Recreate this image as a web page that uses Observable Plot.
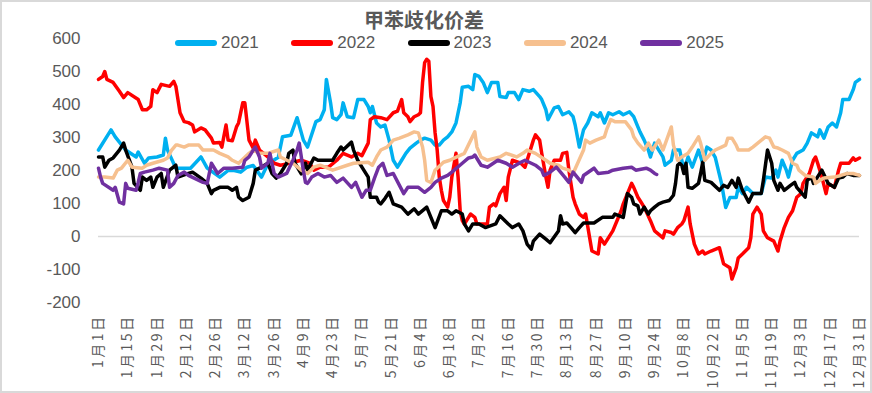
<!DOCTYPE html>
<html><head><meta charset="utf-8">
<script src="https://cdn.jsdelivr.net/npm/d3@7"></script>
<script src="https://cdn.jsdelivr.net/npm/@observablehq/plot@0.6"></script>
<style>
body{margin:0;background:#fff;}
#wrap{position:relative;width:872px;height:393px;overflow:hidden;background:#fff;}
#border{position:absolute;left:0;top:0;width:872px;height:393px;box-sizing:border-box;border:2.5px solid #D9D9D9;pointer-events:none;}
#title{position:absolute;left:0;width:848px;top:9px;text-align:center;font-weight:bold;font-size:20px;line-height:22px;font-family:"Noto Sans CJK SC",sans-serif;color:#595959;}
#legend{position:absolute;top:33px;left:175px;height:20px;display:flex;}
.item{width:116.3px;display:flex;align-items:center;height:20px;}
.sw{width:42px;height:6px;border-radius:3px;margin-right:4px;}
.lt{font-family:"Liberation Sans",Arial,sans-serif;font-size:17px;color:#595959;line-height:20px;}
#chart svg{position:absolute;left:0;top:0;}
#chart svg [aria-label="x-axis tick label"] text{font-family:"Noto Sans CJK SC",sans-serif;font-size:14px;letter-spacing:2.5px;fill:#595959;}
#chart svg [aria-label="y-axis tick label"] text{font-family:"Liberation Sans",Arial,sans-serif;font-size:17px;fill:#595959;}
</style></head>
<body>
<div id="wrap">
  <div id="chart"></div>
  <div id="title"></div>
  <div id="legend"></div>
  <div id="border"></div>
</div>
<script>
const titleText = "甲苯歧化价差";
const years = ["2021","2022","2023","2024","2025"];
const colors = ["#00B0F0","#FF0000","#000000","#F6C08F","#7030A0"];
const yTicks = [-200,-100,0,100,200,300,400,500,600];
const tickDays = [0,14,28,42,56,70,84,98,112,126,140,154,168,182,196,210,224,238,252,266,280,294,308,322,336,350,364];
const tickLabels = ["1月1日","1月15日","1月29日","2月12日","2月26日","3月12日","3月26日","4月9日","4月23日","5月7日","5月21日","6月4日","6月18日","7月2日","7月16日","7月30日","8月13日","8月27日","9月10日","9月24日","10月8日","10月22日","11月5日","11月19日","12月3日","12月17日","12月31日"];

// [day of year, value]
const s2021 = [[0,262],[6,323],[8,302],[10,286],[13,262],[18,241],[19,256],[22,222],[24,238],[28,241],[31,247],[32,298],[33,262],[37,207],[44,207],[49,241],[52,207],[58,180],[62,200],[65,200],[68,195],[71,210],[74,215],[78,180],[81,220],[86,240],[88,302],[92,307],[95,360],[98,292],[100,271],[104,348],[106,354],[108,384],[109,476],[111,405],[112,360],[114,354],[116,369],[117,405],[119,363],[122,360],[124,415],[127,415],[129,394],[130,375],[131,394],[133,344],[135,332],[137,338],[139,292],[141,231],[143,210],[145,231],[147,252],[149,268],[152,283],[154,292],[156,298],[159,292],[161,277],[163,277],[165,292],[167,302],[169,317],[171,344],[173,405],[174,452],[177,455],[179,445],[180,491],[182,485],[184,467],[186,436],[188,467],[191,467],[192,424],[195,421],[196,436],[199,436],[201,415],[203,445],[206,440],[208,445],[211,424],[212,415],[214,384],[215,354],[218,390],[220,394],[222,369],[225,378],[227,363],[228,338],[230,271],[232,323],[234,344],[236,375],[239,363],[240,375],[242,344],[244,375],[246,369],[249,378],[251,369],[254,378],[256,363],[258,332],[259,317],[261,292],[263,262],[264,241],[266,283],[268,262],[270,241],[271,216],[274,231],[275,262],[278,262],[280,201],[282,241],[284,210],[287,262],[289,222],[291,271],[293,262],[295,240],[298,161],[300,88],[302,118],[305,118],[306,149],[308,130],[310,149],[313,130],[317,130],[319,180],[322,177],[324,201],[325,180],[327,231],[329,201],[330,180],[332,231],[334,252],[337,262],[339,283],[341,314],[344,302],[345,323],[347,298],[349,332],[351,344],[353,332],[355,375],[356,415],[359,415],[361,445],[362,467],[364,476]];
const s2022 = [[0,476],[2,485],[3,500],[4,476],[7,467],[10,440],[12,421],[14,436],[19,415],[21,384],[23,384],[25,394],[26,445],[28,436],[30,461],[34,455],[36,470],[37,455],[39,375],[41,348],[43,345],[45,338],[46,317],[49,329],[51,323],[54,298],[55,283],[58,285],[59,271],[61,338],[62,292],[64,290],[66,332],[67,344],[69,405],[70,405],[72,292],[74,268],[75,292],[77,262],[79,252],[81,241],[84,222],[87,216],[90,220],[93,225],[97,231],[101,222],[103,201],[106,210],[110,210],[114,231],[117,252],[121,241],[124,252],[126,245],[129,283],[130,354],[132,363],[135,360],[138,354],[141,375],[143,380],[145,415],[146,375],[148,363],[149,348],[151,363],[153,369],[154,375],[155,467],[156,527],[157,537],[158,531],[159,424],[160,394],[161,314],[162,262],[163,180],[164,140],[165,109],[167,89],[168,119],[169,180],[171,252],[172,180],[173,78],[174,48],[175,38],[177,58],[178,68],[180,58],[181,38],[186,38],[187,89],[189,99],[190,93],[192,130],[194,149],[195,109],[196,180],[198,231],[202,222],[204,210],[208,292],[209,308],[211,292],[212,252],[214,180],[215,149],[216,201],[218,231],[221,231],[222,252],[224,255],[225,201],[227,119],[228,99],[230,68],[232,58],[233,68],[236,-44],[239,-53],[240,-4],[242,-23],[246,17],[250,78],[251,99],[253,130],[255,161],[256,149],[258,119],[259,109],[261,89],[264,48],[266,17],[270,-4],[271,17],[274,12],[275,7],[277,27],[279,38],[280,48],[282,89],[283,38],[285,-23],[287,-53],[289,-44],[290,-53],[293,-44],[297,-34],[299,-83],[302,-95],[303,-129],[305,-95],[306,-65],[308,-53],[311,-34],[312,-4],[313,68],[315,89],[317,68],[318,17],[320,-4],[323,-14],[325,-44],[326,-14],[328,27],[330,58],[332,78],[334,119],[336,130],[337,161],[340,191],[342,231],[343,241],[344,222],[346,180],[348,130],[349,161],[352,149],[354,201],[355,222],[357,222],[359,222],[361,238],[362,231],[364,238]];
const s2023 = [[0,241],[2,241],[3,210],[5,231],[7,238],[10,262],[12,283],[13,262],[16,210],[17,161],[20,140],[21,180],[23,170],[25,180],[26,149],[28,180],[30,191],[31,149],[34,201],[37,216],[38,180],[43,191],[45,195],[49,177],[52,161],[54,130],[55,140],[58,149],[62,149],[64,140],[66,149],[67,119],[69,109],[72,119],[74,161],[75,201],[77,207],[81,222],[83,191],[85,177],[87,191],[90,222],[91,252],[93,262],[94,222],[97,190],[99,222],[100,201],[103,238],[105,231],[110,231],[112,231],[114,252],[116,271],[117,262],[121,286],[122,262],[124,231],[126,210],[129,180],[130,119],[133,119],[134,104],[135,99],[137,115],[139,134],[141,99],[145,89],[148,68],[151,84],[153,68],[157,89],[159,58],[161,27],[164,78],[167,78],[169,68],[171,78],[174,68],[175,38],[177,17],[179,38],[182,38],[185,27],[190,38],[192,63],[196,38],[198,27],[201,38],[203,17],[205,-23],[207,-38],[208,-14],[211,7],[214,-8],[216,-19],[220,17],[221,63],[222,38],[224,41],[226,27],[228,12],[230,27],[232,41],[237,41],[241,58],[246,58],[247,68],[251,58],[253,130],[255,119],[256,99],[258,93],[259,68],[261,89],[263,68],[264,78],[266,89],[268,99],[270,104],[273,109],[275,125],[276,161],[277,216],[278,222],[279,216],[280,191],[281,222],[282,149],[284,146],[287,161],[288,191],[289,225],[290,170],[293,164],[297,140],[299,155],[301,149],[303,170],[305,149],[306,177],[308,140],[311,104],[313,130],[317,130],[318,170],[320,262],[322,222],[323,170],[325,140],[326,161],[328,140],[331,155],[333,164],[334,149],[338,119],[339,170],[341,180],[342,161],[346,201],[349,161],[352,149],[354,177],[356,180],[358,191],[361,185],[364,185]];
const s2024 = [[0,180],[3,180],[7,177],[9,201],[11,207],[14,231],[16,210],[21,207],[23,216],[26,222],[31,231],[33,238],[35,262],[37,277],[38,277],[41,271],[43,277],[48,277],[50,262],[55,262],[58,252],[62,241],[64,231],[67,222],[72,252],[74,262],[77,252],[81,252],[86,262],[87,241],[93,222],[97,201],[100,191],[103,210],[106,216],[112,201],[119,216],[122,222],[129,225],[131,216],[133,241],[135,262],[138,271],[141,292],[144,298],[148,308],[151,317],[153,314],[155,271],[156,231],[157,170],[159,164],[161,201],[165,225],[168,231],[175,252],[180,317],[181,271],[183,241],[186,231],[192,241],[195,252],[200,241],[203,252],[205,262],[209,252],[214,231],[216,222],[220,216],[222,207],[225,201],[227,191],[232,262],[233,292],[235,283],[238,292],[242,302],[243,323],[245,354],[247,348],[252,348],[255,323],[256,302],[258,283],[261,262],[263,283],[265,262],[268,292],[270,262],[274,332],[275,277],[277,231],[279,241],[282,252],[284,271],[287,302],[288,283],[290,231],[293,252],[295,262],[298,271],[300,277],[301,298],[303,298],[305,277],[306,262],[311,262],[313,271],[319,302],[321,298],[323,271],[325,268],[327,262],[330,252],[332,222],[334,216],[335,201],[338,185],[342,180],[343,161],[345,170],[347,177],[352,180],[355,185],[358,191],[361,191],[364,185]];
const s2025 = [[0,207],[1,180],[2,161],[7,140],[8,149],[10,104],[12,99],[13,161],[14,146],[18,140],[19,164],[20,191],[22,195],[26,201],[29,207],[33,201],[34,149],[36,161],[38,185],[41,195],[43,185],[50,164],[52,161],[54,222],[57,191],[60,207],[64,207],[69,210],[70,231],[72,241],[74,262],[75,271],[77,241],[78,207],[81,222],[82,252],[84,191],[86,180],[90,191],[93,231],[95,262],[96,283],[98,200],[99,164],[100,161],[102,180],[105,191],[108,180],[111,185],[114,164],[117,177],[121,149],[123,164],[124,149],[126,119],[128,140],[130,140],[132,177],[134,210],[136,222],[138,185],[141,191],[146,130],[148,149],[153,149],[156,134],[159,149],[161,164],[164,177],[167,185],[169,195],[174,222],[177,238],[179,241],[180,247],[183,216],[186,210],[191,231],[195,222],[198,210],[202,225],[204,231],[209,216],[212,201],[213,185],[216,195],[219,210],[223,180],[225,164],[227,195],[231,164],[232,185],[237,207],[239,191],[244,195],[246,201],[251,207],[255,210],[257,201],[262,207],[264,201],[266,191],[267,188]];

const seriesData = [s2021, s2022, s2023, s2024, s2025];

document.getElementById("title").textContent = titleText;
const leg = document.getElementById("legend");
years.forEach((y, i) => {
  const it = document.createElement("div"); it.className = "item";
  const sw = document.createElement("span"); sw.className = "sw"; sw.style.background = colors[i];
  const t = document.createElement("span"); t.className = "lt"; t.textContent = y;
  it.appendChild(sw); it.appendChild(t); leg.appendChild(it);
});

const chart = Plot.plot({
  width: 872, height: 393,
  marginLeft: 98, marginRight: 13, marginTop: 38, marginBottom: 91,
  style: {background: "transparent"},
  x: {type: "linear", domain: [0, 364]},
  y: {domain: [-200, 600]},
  marks: [
    Plot.axisX(tickDays, {tickFormat: d => tickLabels[tickDays.indexOf(d)], tickRotate: -90, tickSize: 0, tickPadding: 12, label: null}),
    Plot.axisY(yTicks, {tickSize: 0, tickPadding: 18, label: null, tickFormat: d => String(d)}),
    Plot.ruleY([0], {stroke: "#D9D9D9", strokeWidth: 1.5}),
    ...seriesData.map((s, i) => Plot.line(s, {x: d => d[0], y: d => d[1], stroke: colors[i], strokeWidth: 3.5, strokeLinejoin: "round", strokeLinecap: "round"}))
  ]
});
document.getElementById("chart").appendChild(chart);
</script>
</body></html>
